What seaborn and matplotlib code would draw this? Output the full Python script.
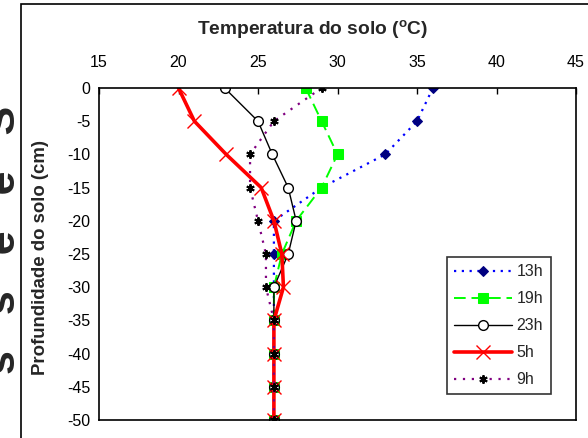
import numpy as np
import pandas as pd
import matplotlib
matplotlib.use('Agg')
import matplotlib.pyplot as plt
import seaborn as sns
from matplotlib.patches import Rectangle

# profile data (soil depth in cm, temperature in C)
depths = [0, -5, -10, -15, -20, -25, -30, -35, -40, -45, -50]
t13 = [36, 35, 33, 29, 26, 26, 26, 26, 26, 26, 26]
t19 = [28, 29, 30, 29, 27.4, 26.5, 26, 26, 26, 26, 26]
t23 = [22.9, 25, 25.9, 26.9, 27.4, 26.9, 26, 26, 26, 26, 26]
t5 = [20, 21, 23, 25.2, 26, 26.5, 26.6, 26, 26, 26, 26]
t9 = [29, 26, 24.5, 24.5, 25, 25.5, 25.5, 26, 26, 26, 26]

xticks = [15, 20, 25, 30, 35, 40, 45]
yticks = [0, -5, -10, -15, -20, -25, -30, -35, -40, -45, -50]
ytick_labels = ['0', '-5', '-10', '-15', '-20', '-25', '-30', '-35', '-40', '-45', '-50']

sns.set_style('white')
plt.rcParams['font.family'] = ['Liberation Sans', 'DejaVu Sans']
plt.rcParams['mathtext.fontset'] = 'custom'
plt.rcParams['mathtext.rm'] = 'Liberation Sans'
plt.rcParams['mathtext.bf'] = 'Liberation Sans:bold'

fig = plt.figure(figsize=(5.88, 4.38), dpi=100)
ax = fig.add_axes([99/588, 1 - 420/438, 477/588, 332/438])

# series styles
series = [
    ('13h', t13, dict(color='#0000FF', linestyle=(0, (1, 2.5)), linewidth=1.6, marker='D', markersize=5,
                      markerfacecolor='#000080', markeredgecolor='#000080')),
    ('19h', t19, dict(color='#00FF00', linestyle=(0, (6, 3)), linewidth=1.4, marker='s', markersize=7,
                      markerfacecolor='#00FF00', markeredgecolor='#00FF00')),
    ('23h', t23, dict(color='black', linestyle='-', linewidth=1.0, marker='o', markersize=7,
                      markerfacecolor='white', markeredgecolor='black', markeredgewidth=1.0)),
    ('5h', t5, dict(color='#FF0000', linestyle='-', linewidth=2.6, marker='x', markersize=10,
                    markeredgecolor='#FF0000', markeredgewidth=1.0)),
    ('9h', t9, dict(color='#800080', linestyle=(0, (1, 3)), linewidth=1.6, marker=(6, 2, 0), markersize=6,
                    markeredgecolor='black', markeredgewidth=1.4)),
]

for name, temps, kw in series:
    df = pd.DataFrame({'temp': temps, 'depth': depths})
    sns.lineplot(data=df, x='temp', y='depth', orient='y', sort=False, estimator=None,
                 ax=ax, label=name, **kw)

ax.set_xlim(15, 45)
ax.set_ylim(-50, 0)
ax.xaxis.tick_top()
ax.set_xticks(xticks)
ax.set_yticks(yticks)
ax.set_yticklabels(ytick_labels)
ax.tick_params(axis='x', direction='in', length=4, width=1, labelsize=11.5, pad=13, colors='black')
ax.tick_params(axis='y', direction='out', length=3, width=1, labelsize=11.5, pad=3, colors='black')
ax.set_xlabel('')
for sp in ax.spines.values():
    sp.set_color('black')
    sp.set_linewidth(1.2)
    sp.set_visible(True)

ax.set_ylabel('Profundidade do solo (cm)', fontsize=13.4, fontweight='bold')
ax.yaxis.set_label_coords(-0.105, 0.49)

fig.text(313/588, 1 - 30/438, r'Temperatura do solo ($^{\mathbf{o}}$C)', fontsize=13.8, fontweight='bold',
         ha='center', va='center')

leg = ax.legend(loc='upper left', bbox_to_anchor=(0.73, 0.491), fontsize=11.5, frameon=True,
                fancybox=False, edgecolor='black', handlelength=3.6, handletextpad=0.3,
                labelspacing=0.75, borderpad=0.45, borderaxespad=0)
leg.get_frame().set_linewidth(1.2)

# chart area border (cut off at right and bottom)
fig.patches.append(Rectangle((21/588, -0.1), 1.0, 1.1 - 4/438, transform=fig.transFigure,
                             fill=False, edgecolor='black', linewidth=1.2))

# cropped label fragment at the far left
fig.text(24/588, 1 - 240/438, 's   s   e   e   S', rotation=90, fontsize=31, fontweight='bold',
         ha='right', va='center')

plt.savefig('out.png', dpi=100)
